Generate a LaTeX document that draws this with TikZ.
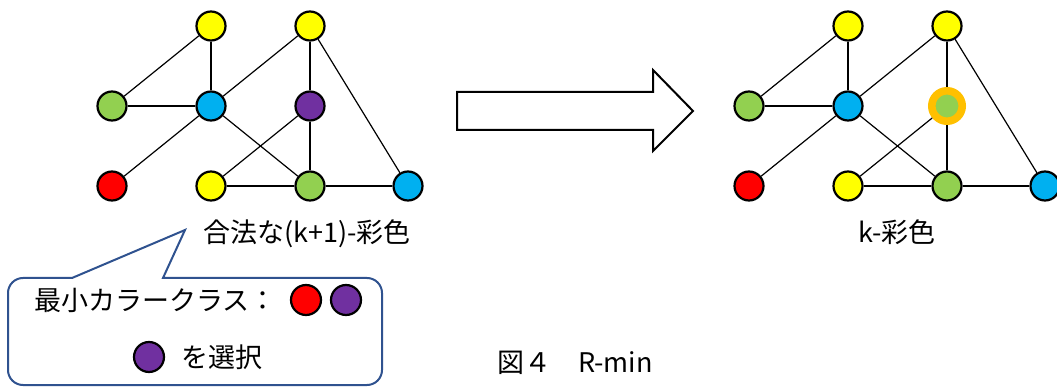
\documentclass[tikz,border=0pt]{standalone}
\usepackage{fontspec}
\newfontfamily\jpfont{Noto Sans CJK JP}
\definecolor{vyellow}{HTML}{FFFF00}
\definecolor{vgreen}{HTML}{92D050}
\definecolor{vblue}{HTML}{00B0F0}
\definecolor{vpurple}{HTML}{7030A0}
\definecolor{vred}{HTML}{FF0000}
\definecolor{vorange}{HTML}{FFC000}
\definecolor{calloutblue}{HTML}{2F528F}
\tikzset{
  vertex/.style={circle, draw=black, line width=2.2pt, minimum size=29pt, inner sep=0pt},
  purplev/.style={vertex, fill=vpurple},
  recolored/.style={circle, draw=vorange, line width=7.6pt, fill=vgreen, minimum size=30.4pt, inner sep=0pt},
  edge/.style={line width=1.2pt},
  jptext/.style={font=\jpfont\fontsize{27}{31}\selectfont, inner sep=0pt},
}
\begin{document}
\begin{tikzpicture}[x=1pt, y=-1pt]
\useasboundingbox (0,0) rectangle (1057,387);
\foreach \g/\dx/\pstyle in {L/0/purplev, R/637/recolored}
{
  \node[vertex, fill=vyellow] (\g y1) at (211+\dx,26) {};
  \node[vertex, fill=vyellow] (\g y2) at (310+\dx,26) {};
  \node[vertex, fill=vgreen] (\g gl) at (112+\dx,106) {};
  \node[vertex, fill=vblue] (\g bc) at (211+\dx,106) {};
  \node[\pstyle] (\g pu) at (310+\dx,106) {};
  \node[vertex, fill=vred] (\g rd) at (112+\dx,186) {};
  \node[vertex, fill=vyellow] (\g yb) at (211+\dx,186) {};
  \node[vertex, fill=vgreen] (\g gb) at (310+\dx,186) {};
  \node[vertex, fill=vblue] (\g br) at (408+\dx,186) {};
  \foreach \a/\b in {y1/gl, y1/bc, gl/bc, bc/y2, bc/rd, bc/gb,
                     y2/pu, y2/br, pu/yb, pu/gb, yb/gb, gb/br}
    \draw[edge] (\g\a) -- (\g\b);
}
\draw[line width=2pt, fill=white] (457,92) -- (653,92) -- (653,70) -- (693,111)
  -- (653,151) -- (653,130) -- (457,130) -- cycle;
\node[jptext] (lcap) at (307,234) {合法な(k+1)-彩色};
\node[jptext] (rcap) at (897,232) {k-彩色};
\draw[line width=2pt, draw=calloutblue, fill=white] (185,230) -- (163,278) -- (270,278)
  [rounded corners=15pt] -- (382,278) -- (382,385) -- (8,385) -- (8,278) -- (40,278)
  [sharp corners] -- (72,278) -- cycle;
\node[jptext, anchor=west] (minlabel) at (34,300) {最小カラークラス：};
\node[vertex, minimum size=30pt, fill=vred] (minred) at (306,300) {};
\node[vertex, minimum size=30pt, fill=vpurple] (minpurple) at (346,300) {};
\node[vertex, minimum size=30pt, fill=vpurple] (pick) at (149,357) {};
\node[jptext, anchor=west] (picklabel) at (181,357) {を選択};
\node[jptext, anchor=west] (fig) at (497,363) {図４　R-min};
\end{tikzpicture}
\end{document}
